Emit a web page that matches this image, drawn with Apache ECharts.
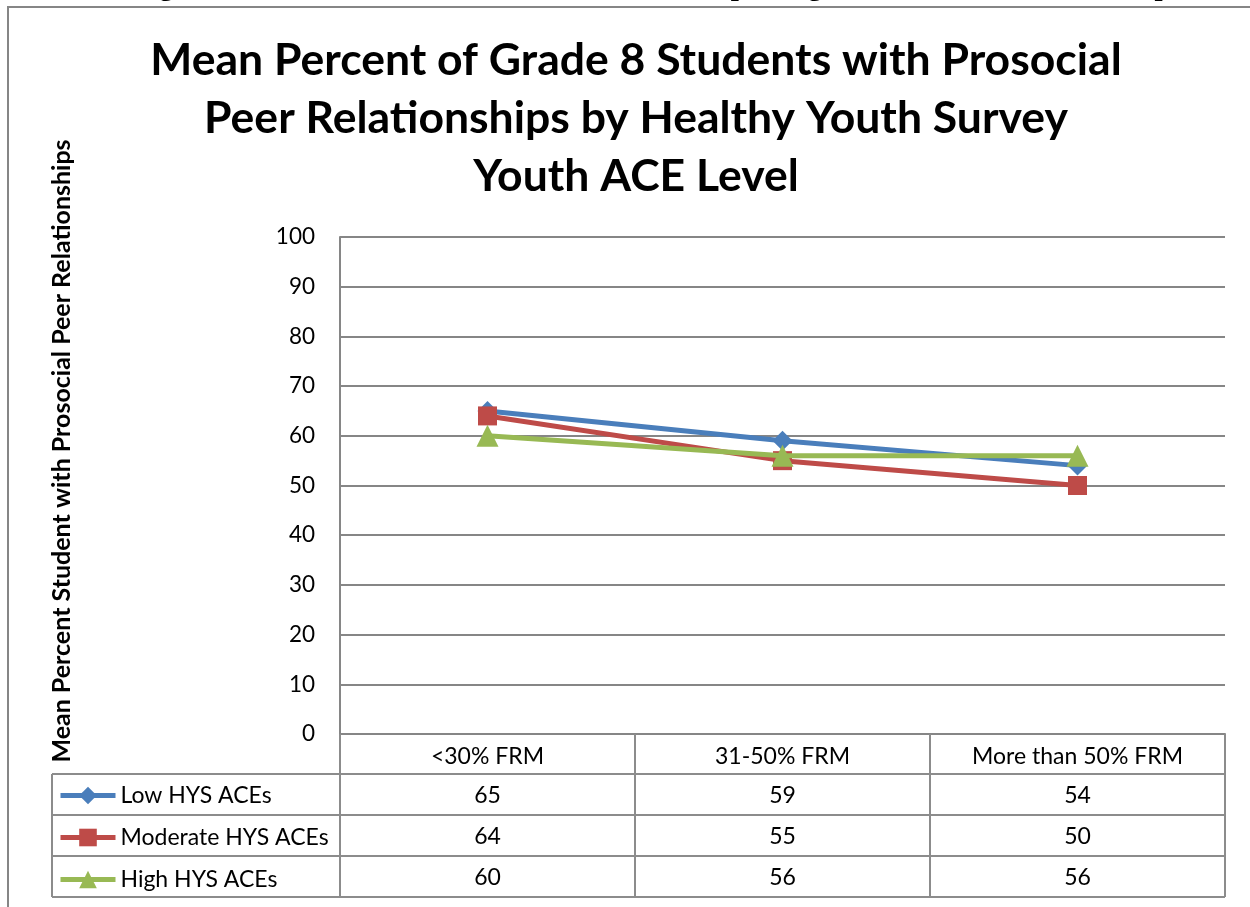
<!DOCTYPE html>
<html>
<head>
<meta charset="utf-8">
<script src="https://cdn.jsdelivr.net/npm/echarts@6/dist/echarts.min.js"></script>
<style>
html,body{margin:0;padding:0;background:#fff;}
#c{width:1250px;height:907px;}
</style>
</head>
<body>
<div id="c"></div>
<script>
// ---- data ----
var categories = ['<30% FRM', '31-50% FRM', 'More than 50% FRM'];
var seriesNames = ['Low HYS ACEs', 'Moderate HYS ACEs', 'High HYS ACEs'];
var lowValues = [65, 59, 54];
var moderateValues = [64, 55, 50];
var highValues = [60, 56, 56];
var yTicks = [0, 10, 20, 30, 40, 50, 60, 70, 80, 90, 100];
var titleLines = ['Mean Percent of Grade 8 Students with Prosocial', 'Peer Relationships by Healthy Youth Survey', 'Youth ACE Level'];
var yAxisTitle = 'Mean Percent Student with Prosocial Peer Relationships';
var captionText = 'Figure 3a: Mean FRM and Grade 8 Students Reporting Prosocial Peer Relationships';

var colors = ['#4A7EBB', '#BE4B48', '#98B954'];
var symbols = ['diamond', 'rect', 'triangle'];
var allValues = [lowValues, moderateValues, highValues];
var FONT = 'Lato, Carlito, "Open Sans", sans-serif';
var GRID = {left: 340, top: 237, width: 885, height: 497};
var ROW = 41;
var TFS = 23;

var chart = echarts.init(document.getElementById('c'), null, {renderer: 'canvas'});

var series = seriesNames.map(function (n, i) {
  return {
    name: n, type: 'line', data: allValues[i],
    symbol: symbols[i], symbolSize: i === 0 ? 20 : (i === 1 ? 19 : 22),
    lineStyle: {color: colors[i], width: 5},
    itemStyle: {color: colors[i]},
    z: 10 + i, animation: false
  };
});

var option = {
  animation: false,
  backgroundColor: '#fff',
  title: {
    text: titleLines.join('\n'),
    left: 631, top: 27, textAlign: 'center',
    textStyle: {fontFamily: FONT, fontWeight: 'bold', fontSize: 44.5, lineHeight: 58, color: '#000'}
  },
  grid: {left: GRID.left, top: GRID.top, width: GRID.width, height: GRID.height, containLabel: false},
  legend: {
    orient: 'vertical', left: 58, top: 784, padding: 0,
    itemWidth: 55, itemHeight: 22, itemGap: 19,
    lineStyle: {width: 5},
    textStyle: {fontFamily: FONT, fontSize: TFS, color: '#000', lineHeight: 22},
    data: seriesNames, selectedMode: false
  },
  xAxis: {
    type: 'category', data: categories, boundaryGap: true,
    axisLine: {show: true, lineStyle: {color: '#868686', width: 2}},
    axisTick: {show: false},
    axisLabel: {fontFamily: FONT, fontSize: TFS, color: '#000', margin: 11}
  },
  yAxis: {
    type: 'value', min: yTicks[0], max: yTicks[yTicks.length - 1], interval: yTicks[1] - yTicks[0],
    axisLine: {show: true, lineStyle: {color: '#868686', width: 2}},
    axisTick: {show: false},
    splitLine: {lineStyle: {color: '#868686', width: 2}},
    axisLabel: {fontFamily: FONT, fontSize: 22.5, color: '#000', margin: 25}
  },
  series: series
};
chart.setOption(option);

// ---- data table + decorations ----
var g = [];
var x0 = GRID.left, x1 = GRID.left + GRID.width, yb = GRID.top + GRID.height;
var lineStyle = {stroke: '#8c8c8c', lineWidth: 2};
function L(a, b, c, d) { g.push({type: 'line', shape: {x1: a, y1: b, x2: c, y2: d}, style: lineStyle, z: 5}); }
var tLeft = 52;
var rowsTop = yb + 40;
for (var r = 0; r <= seriesNames.length; r++) L(tLeft, rowsTop + r * ROW, x1, rowsTop + r * ROW);
var bottom = rowsTop + seriesNames.length * ROW;
L(tLeft, rowsTop, tLeft, bottom);
var step = GRID.width / categories.length;
for (var c = 0; c <= categories.length; c++) L(x0 + c * step, yb, x0 + c * step, bottom);
for (var s = 0; s < seriesNames.length; s++) {
  for (var k = 0; k < categories.length; k++) {
    var px = chart.convertToPixel({xAxisIndex: 0}, categories[k]);
    g.push({type: 'text', x: px, y: rowsTop + s * ROW + ROW / 2 + 1, z: 6,
      style: {text: String(allValues[s][k]), font: TFS + 'px ' + FONT, fill: '#000', align: 'center', verticalAlign: 'middle'}});
  }
}
g.push({type: 'text', x: 62, y: 451, rotation: Math.PI / 2, z: 6,
  style: {text: yAxisTitle, font: 'bold 25px ' + FONT, fill: '#000', align: 'center', verticalAlign: 'middle'}});
g.push({type: 'rect', shape: {x: 8, y: 7, width: 1400, height: 1100}, style: {fill: 'none', stroke: '#868686', lineWidth: 2}, z: 7});
g.push({type: 'text', x: 1182, y: 2, z: 8,
  style: {text: captionText, font: 'bold 29px "Liberation Serif", "Times New Roman", serif', fill: '#000', align: 'right', verticalAlign: 'bottom'}});
chart.setOption({graphic: g});
</script>
</body>
</html>
